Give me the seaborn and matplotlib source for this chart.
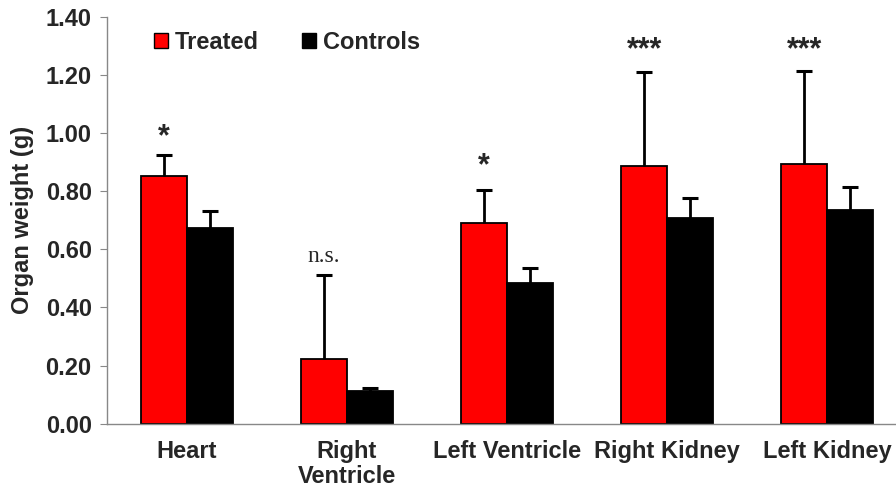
import numpy as np
import pandas as pd
import matplotlib
matplotlib.use("Agg")
import matplotlib.pyplot as plt
from matplotlib.patches import Patch
from matplotlib.ticker import FixedLocator
import seaborn as sns

organs = ["Heart", "Right\nVentricle", "Left Ventricle", "Right Kidney", "Left Kidney"]
treated = [0.853, 0.223, 0.691, 0.887, 0.894]
treated_err = [0.072, 0.290, 0.112, 0.324, 0.319]
controls = [0.674, 0.112, 0.485, 0.709, 0.735]
controls_err = [0.058, 0.012, 0.052, 0.068, 0.078]
marks = ["*", "n.s.", "*", "***", "***"]
mark_y = [0.985, 0.575, 0.885, 1.285, 1.285]

sns.set_style("white")
plt.rcParams["font.family"] = ["Liberation Sans", "DejaVu Sans"]

df = pd.DataFrame({
    "organ": organs * 2,
    "group": ["Treated"] * 5 + ["Controls"] * 5,
    "weight": treated + controls,
})
colors = {"Treated": "#ff0000", "Controls": "#000000"}

fig = plt.figure(figsize=(8.96, 4.95), dpi=100)
ax = fig.add_axes([107 / 896, 0.144, 800 / 896, 0.822])

sns.barplot(data=df, x="organ", y="weight", hue="group", palette=colors,
            width=0.57, saturation=1, edgecolor="black", linewidth=1.3,
            errorbar=None, legend=False, ax=ax)

# upper-only error bars, one container per group
for cont, err in zip(ax.containers, [treated_err, controls_err]):
    xs = np.array([b.get_x() + b.get_width() / 2 for b in cont])
    ys = np.array([b.get_height() for b in cont])
    ax.errorbar(xs, ys, yerr=[np.zeros(len(err)), err], fmt="none",
                ecolor="black", elinewidth=2, capsize=0, zorder=3)
    ax.plot(xs, ys + np.array(err), ls="none", marker="_", markersize=11,
            markeredgewidth=2.2, color="black", zorder=3)

# significance marks above treated bars
for x, (m, y) in enumerate(zip(marks, mark_y)):
    if m == "n.s.":
        ax.text(x - 0.143, y, m, ha="center", va="center", fontsize=17,
                family="Liberation Serif")
    else:
        ax.text(x - 0.143, y, m, ha="center", va="center", fontsize=22,
                fontweight="bold")

ax.set_xlim(-0.5, 4.5)
ax.set_ylim(0, 1.4)
ax.set_yticks(np.arange(0, 1.41, 0.2))
ax.set_yticklabels([f"{v:.2f}" for v in np.arange(0, 1.41, 0.2)],
                   fontsize=17, fontweight="bold")
ax.set_xticks(range(5))
ax.set_xticklabels(organs, fontsize=17, fontweight="bold", linespacing=1.1)
ax.xaxis.set_minor_locator(FixedLocator(np.arange(-0.5, 4.6, 1)))
ax.tick_params(axis="x", which="major", length=0, pad=12)
ax.tick_params(axis="x", which="minor", length=5, color="#888888", direction="out")
ax.tick_params(axis="y", length=5, color="#888888", direction="out", pad=6, left=True)

ax.set_xlabel("")
ax.set_ylabel("Organ weight (g)", fontsize=17, fontweight="bold", labelpad=8)

for side in ["top", "right"]:
    ax.spines[side].set_visible(False)
for side in ["left", "bottom"]:
    ax.spines[side].set_color("#888888")
    ax.spines[side].set_linewidth(1)

handles = [Patch(facecolor="#ff0000", edgecolor="black", label="Treated"),
           Patch(facecolor="#000000", edgecolor="black", label="Controls")]
leg = ax.legend(handles=handles, loc="center left", bbox_to_anchor=(0.032, 0.938),
                ncol=2, frameon=False, handlelength=0.6, handleheight=0.6,
                handletextpad=0.3, columnspacing=1.8,
                prop={"size": 17, "weight": "bold"})

fig.savefig("out.png", dpi=100)
